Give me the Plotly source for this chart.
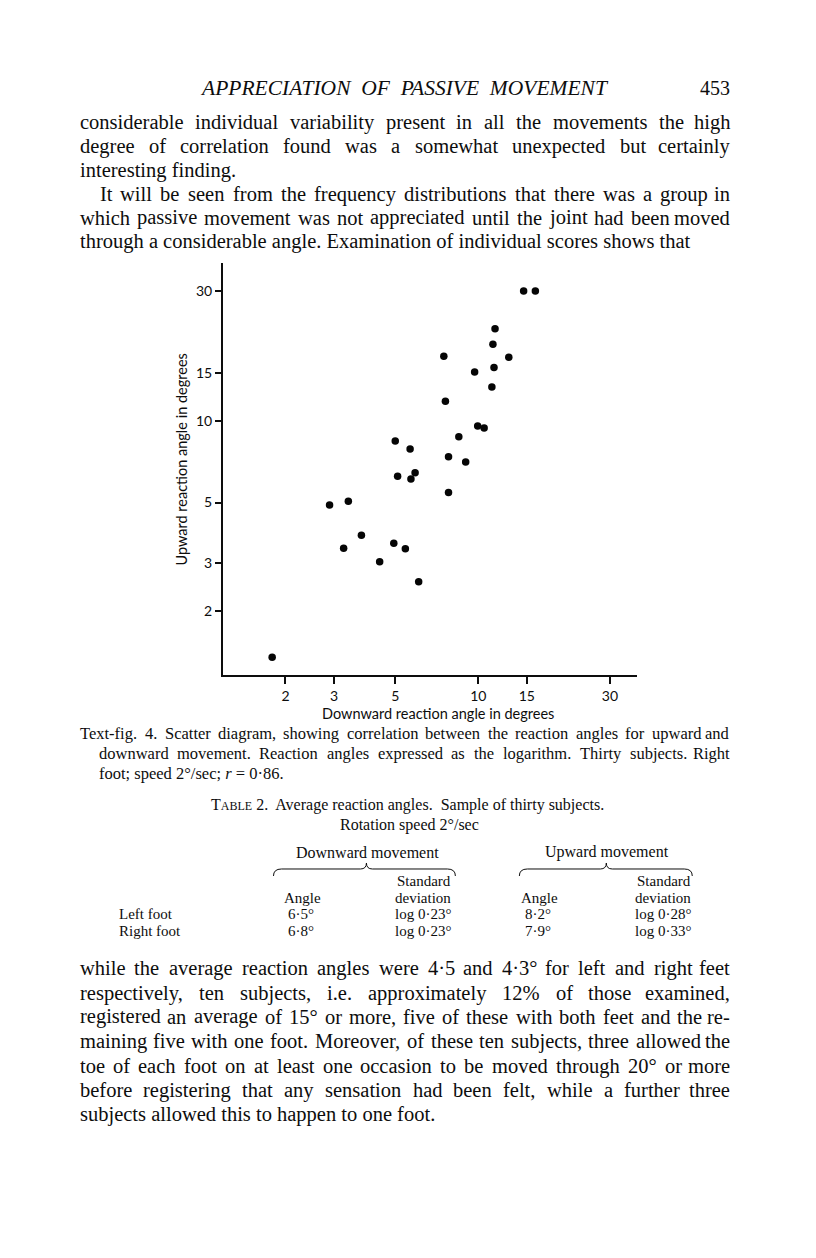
import plotly.graph_objects as go

# ---------------- data ----------------
downward_angle = [14.6, 16.1, 11.5, 11.3, 7.5, 12.9, 11.4, 9.7, 11.2, 7.6,
                  9.95, 10.5, 8.5, 5.0, 5.66, 7.8, 9.0, 5.9, 5.1, 5.7,
                  7.8, 2.89, 3.38, 3.77, 3.25, 4.94, 5.44, 4.39, 6.08, 1.79]
upward_angle = [30.0, 30.0, 21.8, 19.1, 17.25, 17.1, 15.7, 15.1, 13.3, 11.8,
                9.56, 9.4, 8.73, 8.42, 7.87, 7.37, 7.05, 6.44, 6.25, 6.10,
                5.45, 4.90, 5.06, 3.79, 3.40, 3.54, 3.38, 3.03, 2.56, 1.35]
tick_values = [2, 3, 5, 10, 15, 30]
tick_labels = ["2", "3", "5", "10", "15", "30"]

header_title = "APPRECIATION OF PASSIVE MOVEMENT"
page_number = "453"
para1 = [
    "considerable individual variability present in all the movements the high",
    "degree of correlation found was a somewhat unexpected but certainly",
    "interesting finding.",
    "It will be seen from the frequency distributions that there was a group in",
    "which passive movement was not appreciated until the joint had been moved",
    "through a considerable angle. Examination of individual scores shows that",
]
caption = [
    "Text-fig. 4. Scatter diagram, showing correlation between the reaction angles for upward and",
    "downward movement. Reaction angles expressed as the logarithm. Thirty subjects. Right",
    "foot; speed 2°/sec; <i>r</i> = 0·86.",
]
table_rows = ["Left foot", "Right foot"]
down_angle_vals = ["6·5°", "6·8°"]
down_sd_vals = ["log 0·23°", "log 0·23°"]
up_angle_vals = ["8·2°", "7·9°"]
up_sd_vals = ["log 0·28°", "log 0·33°"]
para2 = [
    "while the average reaction angles were 4·5 and 4·3° for left and right feet",
    "respectively, ten subjects, i.e. approximately 12% of those examined,",
    "registered an average of 15° or more, five of these with both feet and the re-",
    "maining five with one foot. Moreover, of these ten subjects, three allowed the",
    "toe of each foot on at least one occasion to be moved through 20° or more",
    "before registering that any sensation had been felt, while a further three",
    "subjects allowed this to happen to one foot.",
]

# ---------------- page geometry ----------------
W, H = 816, 1258
L, R, T, B = 222.5, 816 - 636.7, 263, 1258 - 675
PW, PH = W - L - R, H - T - B
SERIF = "Liberation Serif"
SANS = "Lato"
INK = "#0d0d0d"


def px(x):
    return (x - L) / PW


def py(y):
    return (H - B - y) / PH


# Times / Liberation Serif advance widths (per 1000 em)
TW = {' ': 250, ',': 250, '.': 250, '-': 333, ';': 278, ':': 278, '%': 833, '°': 400,
      '·': 250, '/': 278, '=': 564, '(': 333, ')': 333, "'": 333,
      'A': 722, 'B': 667, 'C': 667, 'D': 722, 'E': 611, 'F': 556, 'G': 722, 'H': 722,
      'I': 333, 'J': 389, 'K': 722, 'L': 611, 'M': 889, 'N': 722, 'O': 722, 'P': 556,
      'Q': 722, 'R': 667, 'S': 556, 'T': 611, 'U': 722, 'V': 722, 'W': 944, 'X': 722,
      'Y': 722, 'Z': 611,
      'a': 444, 'b': 500, 'c': 444, 'd': 500, 'e': 444, 'f': 333, 'g': 500, 'h': 500,
      'i': 278, 'j': 278, 'k': 500, 'l': 278, 'm': 778, 'n': 500, 'o': 500, 'p': 500,
      'q': 500, 'r': 333, 's': 389, 't': 278, 'u': 500, 'v': 500, 'w': 722, 'x': 500,
      'y': 500, 'z': 444}


def tw(s, size):
    return sum(TW.get(c, 500) for c in s) * size / 1000.0


annotations = []


def add_text(s, x, y, size, anchor="left", family=SERIF, italic=False, angle=0):
    annotations.append(dict(
        text=s, x=px(x), y=py(y), xref="paper", yref="paper",
        xanchor=anchor, yanchor="middle", showarrow=False, borderpad=0,
        textangle=angle,
        font=dict(family=family, size=size, color=INK,
                  style="italic" if italic else "normal")))


def justified(line, x0, x1, y, size):
    words = line.split(" ")
    widths = [tw(w, size) for w in words]
    gap = (x1 - x0 - sum(widths)) / (len(words) - 1)
    x = x0
    for i, (w, wd) in enumerate(zip(words, widths)):
        if i == len(words) - 1:
            add_text(w, x1, y, size, anchor="right")
        else:
            add_text(w, x, y, size)
        x += wd + gap


def paragraph(lines, ys, x0, x1, size, indent_first=None):
    for i, (line, y) in enumerate(zip(lines, ys)):
        xs = indent_first if (indent_first is not None and i == 0) else x0
        if i == len(lines) - 1:
            add_text(line, xs, y, size)
        else:
            justified(line, xs, x1, y, size)


BODY = 20.5
# running header
add_text(header_title.replace(" ", "  "), 404, 88, 21.5, anchor="center", italic=True)
add_text(page_number, 731, 88, 20, anchor="right")
# first paragraph (continuation + new paragraph)
paragraph(para1[:3], [122, 146, 170], 78, 731, BODY)
paragraph(para1[3:], [194, 218, 242], 78, 731, BODY, indent_first=98)
# caption
CAP = 16.5
justified(caption[0], 78, 731, 733, CAP)
justified(caption[1], 97, 731, 753, CAP)
add_text(caption[2], 97, 773, CAP)
# table
TB = 15
add_text("T<span style='font-size:12px'>ABLE</span> 2.  Average reaction angles.  Sample of thirty subjects.",
         407, 805, 16, anchor="center")
add_text("Rotation speed 2°/sec", 409, 825, 16, anchor="center")
add_text("Downward movement", 367, 852, 16, anchor="center")
add_text("Upward movement", 607, 852, 16, anchor="center")
add_text("Standard", 452, 881, TB, anchor="right")
add_text("deviation", 452, 898, TB, anchor="right")
add_text("Angle", 283, 898, TB)
add_text("Standard", 692, 881, TB, anchor="right")
add_text("deviation", 692, 898, TB, anchor="right")
add_text("Angle", 520, 898, TB)
for row, y, da, ds, ua, us in zip(table_rows, [914, 931], down_angle_vals, down_sd_vals,
                                  up_angle_vals, up_sd_vals):
    add_text(row, 117, y, TB)
    add_text(da, 287, y, TB)
    add_text(ds, 452, y, TB, anchor="right")
    add_text(ua, 524, y, TB)
    add_text(us, 692, y, TB, anchor="right")
# closing paragraph
paragraph(para2, [968, 993, 1017, 1041, 1066, 1090, 1114], 78, 731, BODY)

# axis titles of the figure
add_text("Downward reaction angle in degrees", 438, 713, 14.5, anchor="center", family=SANS)
add_text("Upward reaction angle in degrees", 180, 460, 14.5, anchor="center", family=SANS, angle=-90)


def brace(x0, x1, mid, ytop=863, yline=869, yend=876):
    pts = lambda x, y: f"{px(x):.5f},{py(y):.5f}"
    return ("M " + pts(x0, yend) + " Q " + pts(x0, yline) + " " + pts(x0 + 8, yline) +
            " L " + pts(mid - 6, yline) + " Q " + pts(mid, yline) + " " + pts(mid, ytop) +
            " Q " + pts(mid, yline) + " " + pts(mid + 6, yline) +
            " L " + pts(x1 - 8, yline) + " Q " + pts(x1, yline) + " " + pts(x1, yend))


shapes = [
    dict(type="path", xref="paper", yref="paper", path=brace(273, 455, 366),
         line=dict(color=INK, width=1)),
    dict(type="path", xref="paper", yref="paper", path=brace(519, 692, 606),
         line=dict(color=INK, width=1)),
]

fig = go.Figure(go.Scatter(
    x=downward_angle, y=upward_angle, mode="markers",
    marker=dict(color="#050505", size=7.5, line=dict(width=0)),
    hoverinfo="x+y"))

axis_common = dict(type="log", tickvals=tick_values, ticktext=tick_labels,
                   ticks="outside", tickwidth=1.5, tickcolor=INK,
                   showline=True, linewidth=2, linecolor=INK,
                   showgrid=False, zeroline=False,
                   tickfont=dict(family=SANS, size=14, color=INK))

fig.update_layout(
    width=W, height=H, autosize=False,
    margin=dict(l=L, r=R, t=T, b=B, pad=0),
    paper_bgcolor="white", plot_bgcolor="white",
    showlegend=False,
    xaxis=dict(range=[0.0746, 1.5753], ticklen=7, **axis_common),
    yaxis=dict(range=[0.065, 1.5798], ticklen=6, **axis_common),
    annotations=annotations,
    shapes=shapes,
)

fig.write_html("out.html", config={"displayModeBar": False},
               post_script="document.body.style.margin='0';document.body.style.overflow='hidden';")
